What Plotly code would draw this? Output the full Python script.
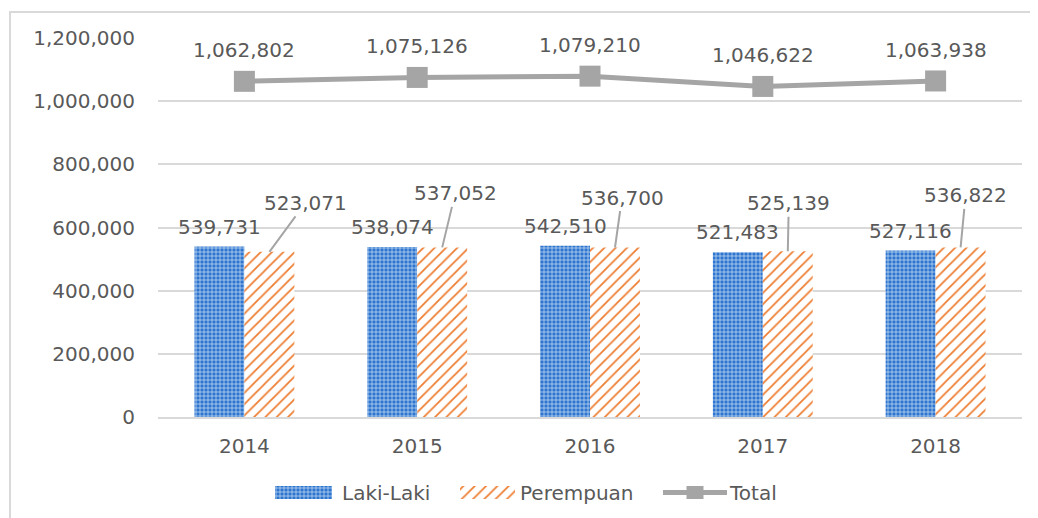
import plotly.graph_objects as go

years = ["2014", "2015", "2016", "2017", "2018"]
laki = [539731, 538074, 542510, 521483, 527116]
perempuan = [523071, 537052, 536700, 525139, 536822]
total = [1062802, 1075126, 1079210, 1046622, 1063938]
# label offsets (pixels) for the Perempuan leader-line labels
per_ax = [36, 13, 7, 1, 5]
per_ay = [-49, -54, -50, -48, -52]

FONT = "DejaVu Sans"
GRAY = "#595959"
FS = 20
idx = list(range(len(years)))

BLUE_PAT = dict(shape="+", bgcolor="#2E75D0", fgcolor="#D6E6F5", size=4, solidity=0.3, fillmode="replace")
ORANGE_PAT = dict(shape="/", bgcolor="white", fgcolor="#ED7D31", size=8, solidity=0.22, fillmode="replace")

fig = go.Figure()
fig.add_trace(go.Bar(
    x=idx, y=laki, name="Laki-Laki", offsetgroup="a",
    marker=dict(color="#5B9BD5", line=dict(width=0), pattern=BLUE_PAT),
))
fig.add_trace(go.Bar(
    x=idx, y=perempuan, name="Perempuan", offsetgroup="b",
    marker=dict(color="#ED7D31", line=dict(width=0), pattern=ORANGE_PAT),
))
fig.add_trace(go.Scatter(
    x=idx, y=total, name="Total", mode="lines+markers",
    line=dict(color="#A5A5A5", width=5),
    marker=dict(symbol="square", size=21, color="#A5A5A5"),
))

# custom legend on an auxiliary axis measured in screen pixels
fig.add_trace(go.Bar(x=[303.5], y=[1], width=[57], xaxis="x2", yaxis="y2",
                     marker=dict(color="#5B9BD5", line=dict(width=0), pattern=BLUE_PAT),
                     hoverinfo="skip"))
fig.add_trace(go.Bar(x=[487.5], y=[1], width=[55], xaxis="x2", yaxis="y2",
                     marker=dict(color="#ED7D31", line=dict(width=0), pattern=ORANGE_PAT),
                     hoverinfo="skip"))
fig.add_trace(go.Scatter(x=[663, 727], y=[0.5, 0.5], mode="lines", xaxis="x2", yaxis="y2",
                         line=dict(color="#A5A5A5", width=5), hoverinfo="skip"))
fig.add_trace(go.Scatter(x=[695], y=[0.5], mode="markers", xaxis="x2", yaxis="y2",
                         marker=dict(symbol="square", size=17, color="#A5A5A5"), hoverinfo="skip"))

annotations = []
for i in idx:
    annotations.append(dict(x=i, y=laki[i], text=f"{laki[i]:,}", showarrow=False,
                            xshift=-25, yshift=20, yanchor="middle",
                            font=dict(family=FONT, size=FS, color=GRAY)))
    annotations.append(dict(x=i, y=perempuan[i], text=f"{perempuan[i]:,}", showarrow=True,
                            arrowhead=0, arrowwidth=2, arrowcolor="#A5A5A5",
                            ax=per_ax[i], ay=per_ay[i], xshift=25,
                            font=dict(family=FONT, size=FS, color=GRAY)))
    annotations.append(dict(x=i, y=total[i], text=f"{total[i]:,}", showarrow=False,
                            yshift=31, yanchor="middle",
                            font=dict(family=FONT, size=FS, color=GRAY)))
for txt, xpos in [("Laki-Laki", 340), ("Perempuan", 518), ("Total", 727)]:
    annotations.append(dict(x=xpos, y=0.5, xref="x2", yref="y2", text=txt, showarrow=False,
                            xanchor="left", yanchor="middle",
                            font=dict(family=FONT, size=FS, color=GRAY)))

fig.update_layout(
    width=1030, height=510,
    margin=dict(l=150, r=16, t=30, b=0, autoexpand=False),
    paper_bgcolor="white", plot_bgcolor="white",
    barmode="group", bargap=0.422, bargroupgap=0,
    font=dict(family=FONT, size=FS, color=GRAY),
    showlegend=False,
    annotations=annotations,
    yaxis=dict(domain=[0.2104, 1], range=[0, 1200000], dtick=200000, tickformat=",d",
               showgrid=True, gridcolor="#D9D9D9", gridwidth=1.5, automargin=False,
               zeroline=False, showline=False, ticks="", ticklabelstandoff=22,
               tickfont=dict(family=FONT, size=FS, color=GRAY)),
    xaxis=dict(range=[-0.5, 4.5], tickmode="array", tickvals=idx, ticktext=years,
               showline=True, linecolor="#D9D9D9", linewidth=1.5, showgrid=False,
               zeroline=False, ticks="", ticklabelstandoff=10, automargin=False,
               tickfont=dict(family=FONT, size=FS, color=GRAY)),
    xaxis2=dict(domain=[0, 1], range=[158, 1022], visible=False, anchor="y2", automargin=False),
    yaxis2=dict(domain=[(510 - 491) / 480, (510 - 478) / 480], range=[0, 1], visible=False,
                anchor="x2", automargin=False),
    shapes=[dict(type="rect", xref="paper", yref="paper",
                 x0=-0.1713, x1=1.2, y0=-0.2, y1=1.054,
                 line=dict(color="#D9D9D9", width=2), layer="below")],
)

fig.write_html("out.html")
